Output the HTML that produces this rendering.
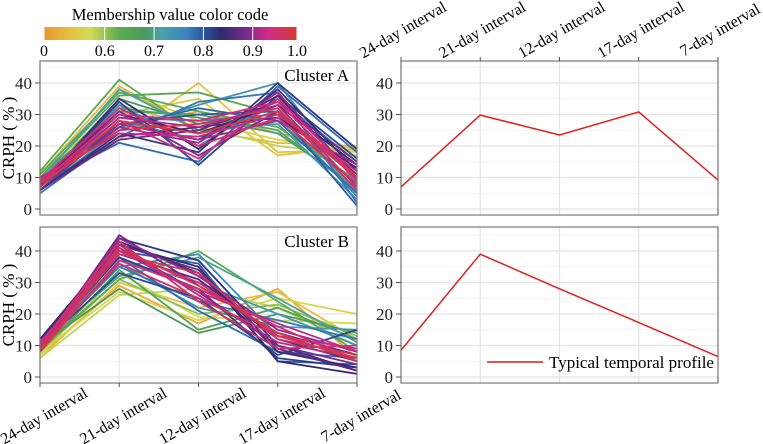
<!DOCTYPE html>
<html><head><meta charset="utf-8"><style>
body{margin:0;background:#fff;}
svg{display:block;font-family:"Liberation Serif",serif;}
</style></head><body>
<svg id="chart" width="763" height="444" viewBox="0 0 763 444">
<defs>
<linearGradient id="cbar" x1="0" x2="1" y1="0" y2="0">
<stop offset="0" stop-color="#e8962e"/><stop offset="0.1" stop-color="#e6c040"/><stop offset="0.18" stop-color="#d4dc52"/>
<stop offset="0.3" stop-color="#5cab50"/><stop offset="0.4" stop-color="#4a9a5e"/><stop offset="0.46" stop-color="#4aa2a4"/>
<stop offset="0.56" stop-color="#3a86c0"/><stop offset="0.63" stop-color="#2a55a0"/><stop offset="0.7" stop-color="#2e2a70"/>
<stop offset="0.8" stop-color="#7a2a8a"/><stop offset="0.88" stop-color="#d02a8a"/><stop offset="1" stop-color="#d43a30"/>
</linearGradient>
</defs>
<g>
<text x="170" y="20" text-anchor="middle" font-size="16.5">Membership value color code</text>
<rect x="44" y="27" width="253" height="13" fill="url(#cbar)"/>
<g id="cbticks"></g>
</g>
<g id="panels"></g>
</svg>
<script>
const categories = ["24-day interval","21-day interval","12-day interval","17-day interval","7-day interval"];
const yTicks = [0,10,20,30,40];
const cbLabels = ["0","0.6","0.7","0.8","0.9","1.0"];
const cbLabelPos = [0,0.24,0.435,0.63,0.825,1];
const typicalA = [7,29.8,23.5,30.8,9.2];
const typicalB = [8.5,39,28,17.3,6.5];
const membersA = [
[0.05,12,26,31,24,19],[0.08,11,39,25,21,20],[0.10,9,22,40,18,19],[0.12,10,30,35,17,20],[0.15,8,38,28,22,18],
[0.2,11,33,26,20,17],[0.3,12,41,24,28,8],[0.32,10,36,37,30,10],[0.35,9,31,30,25,6],[0.4,8,35,27,29,12],
[0.45,7,28,22,33,5],[0.48,9,38,25,27,3],[0.5,6,25,33,40,8],[0.52,8,33,20,35,15],[0.55,7,29,28,30,4],
[0.58,5,23,34,37,2],[0.6,8,21,15,39,18],[0.62,6,27,30,31,1],[0.65,7,34,14,36,16],[0.68,6,24,18,40,19],
[0.7,9,30,24,33,14],[0.72,7,35,19,38,12],[0.75,8,27,22,36,10],[0.78,6,22,25,34,15],[0.8,9,31,17,31,11],
[0.82,7,26,21,37,9],[0.85,8,29,26,33,7],[0.87,10,24,23,30,12],[0.9,7,28,16,35,10],[0.92,9,32,20,29,8],
[0.95,8,25,27,32,6],[0.98,7,28,24,31,10],[0.3,11,37,31,26,9],[0.42,10,32,29,24,7],[0.6,7,26,32,28,5],
[0.74,6,23,26,29,13],[0.84,9,27,22,28,14],[0.9,8,30,28,34,9]];
const membersB = [
[0.05,7,29,17,28,6],[0.1,6,30,22,27,12],[0.15,8,27,18,25,20],[0.18,7,33,19,18,17],[0.2,6,26,28,22,10],
[0.3,9,31,40,24,8],[0.35,8,34,15,22,12],[0.4,10,28,14,20,14],[0.45,11,32,38,25,11],[0.5,12,36,22,16,15],
[0.55,10,35,39,13,9],[0.6,11,38,21,8,6],[0.62,12,40,36,5,4],[0.65,10,33,25,7,15],[0.68,9,44,37,10,2],
[0.7,12,42,35,5,1],[0.72,11,43,33,8,3],[0.75,10,39,31,12,5],[0.78,9,45,29,14,7],[0.8,8,41,27,10,4],
[0.82,10,44,32,15,8],[0.85,9,42,26,11,6],[0.88,11,40,30,13,9],[0.9,8,37,28,16,5],[0.92,10,43,24,9,10],
[0.95,9,39,33,12,7],[0.98,8,41,29,14,5],[0.5,9,37,30,20,10],[0.58,11,35,24,18,12],[0.66,10,38,28,6,3],
[0.76,9,42,34,9,2],[0.86,10,40,27,17,8],[0.94,9,36,25,13,6],[0.25,8,31,20,23,13]];

const NS="http://www.w3.org/2000/svg";
function mk(tag,attrs,parent){const e=document.createElementNS(NS,tag);for(const k in attrs)e.setAttribute(k,attrs[k]);if(parent)parent.appendChild(e);return e;}
const stops=[[0,[232,150,46]],[0.1,[230,192,64]],[0.18,[212,220,82]],[0.3,[92,171,80]],[0.4,[74,154,94]],[0.46,[74,162,164]],[0.56,[58,134,192]],[0.63,[42,85,160]],[0.7,[46,42,112]],[0.8,[122,42,138]],[0.88,[208,42,138]],[1,[212,58,48]]];
function colorOf(m){for(let i=1;i<stops.length;i++){if(m<=stops[i][0]){const a=stops[i-1],b=stops[i];const t=(m-a[0])/(b[0]-a[0]);const c=a[1].map((v,j)=>Math.round(v+(b[1][j]-v)*t));return `rgb(${c})`;}}return "rgb(212,58,48)";}

const FS=16;
const cbt=document.getElementById('cbticks');
cbLabels.forEach((l,i)=>{const x=44+253*cbLabelPos[i];
 const ln=mk('line',{x1:x,x2:x,y1:27,y2:40,stroke:'#fff','stroke-width':1},cbt);
 
 
 const t=mk('text',{x:x,y:56,'text-anchor':'middle','font-size':FS},cbt);t.textContent=l;
 
 
});

const root=document.getElementById('panels');
function panel(name,x0,x1,top,bot,opts){
 const g=mk('g',{},root);
 
 
 const y0=bot-6, y40=y0-126;
 const ys=v=>y0-(v/40)*(y0-y40);
 const xs=i=>x0+(x1-x0)*i/(categories.length-1);
 mk('rect',{x:x0,y:top,width:x1-x0,height:bot-top,fill:'#fff'},g);
 for(let v=-5;v<=45;v+=5){const y=ys(v);if(y<top||y>bot)continue;
  mk('line',{x1:x0,x2:x1,y1:y,y2:y,stroke:v%10===0?'#e4e4e4':'#f0f0f0','stroke-width':v%10===0?1.2:0.8},g);}
 categories.forEach((c,i)=>mk('line',{x1:xs(i),x2:xs(i),y1:top,y2:bot,stroke:'#e4e4e4','stroke-width':1.2},g));
 if(opts.members){
  const sorted=opts.members.slice().sort((a,b)=>a[0]-b[0]);
  sorted.forEach(r=>{const pts=r.slice(1).map((v,i)=>xs(i)+','+ys(v)).join(' ');
   const pl=mk('polyline',{points:pts,fill:'none',stroke:colorOf(r[0]),'stroke-width':1.8},g);
   
   });
 }
 if(opts.typical){const pts=opts.typical.map((v,i)=>xs(i)+','+ys(v)).join(' ');
  const pl=mk('polyline',{points:pts,fill:'none',stroke:'#e0201c','stroke-width':1.5},g);
  
  }
 mk('rect',{x:x0,y:top,width:x1-x0,height:bot-top,fill:'none',stroke:'#777','stroke-width':1.2},g);
 yTicks.forEach(v=>{const y=ys(v);mk('line',{x1:x0-5,x2:x0,y1:y,y2:y,stroke:'#555'},g);
  const t=mk('text',{x:x0-8,y:y+6,'text-anchor':'end','font-size':FS+1,fill:'#222'},g);t.textContent=v;
  
  });
 if(opts.ylabel){const t=mk('text',{x:0,y:0,'text-anchor':'middle','font-size':FS+1,transform:`translate(14,${(top+bot)/2}) rotate(-90)`},g);t.textContent='CRPH ( % )';
  
  }
 if(opts.title){const t=mk('text',{x:x1-8,y:top+20,'text-anchor':'end','font-size':FS+1},g);t.textContent=opts.title;
  
  }
 if(opts.xlabels){const edge=opts.xlabels==='top'?top:bot;
  categories.forEach((c,i)=>{const x=xs(i);mk('line',{x1:x,x2:x,y1:edge,y2:opts.xlabels==='top'?edge-4:edge+4,stroke:'#555'},g);
   const cy=opts.xlabels==='top'?edge-31:edge+33;
   const t=mk('text',{x:0,y:5,'text-anchor':'middle','font-size':FS,transform:`translate(${x+(opts.xlabels==='top'?2:4)},${cy}) rotate(-30)`},g);t.textContent=c;
   
   });}
 if(opts.legend){mk('line',{x1:487,x2:543,y1:362,y2:362,stroke:'#e0201c','stroke-width':1.5},g);
  const t=mk('text',{x:549,y:368,'font-size':FS+1},g);t.textContent='Typical temporal profile';
  
  }
}
panel('cluster-a-members-panel',40,357,61,215,{members:membersA,ylabel:true,title:'Cluster A'});
panel('cluster-b-members-panel',40,357,227,383,{members:membersB,ylabel:true,title:'Cluster B',xlabels:'bottom'});
panel('cluster-a-typical-panel',401,718,61,215,{typical:typicalA,xlabels:'top'});
panel('cluster-b-typical-panel',401,718,227,383,{typical:typicalB,legend:true});
</script>
</body></html>
